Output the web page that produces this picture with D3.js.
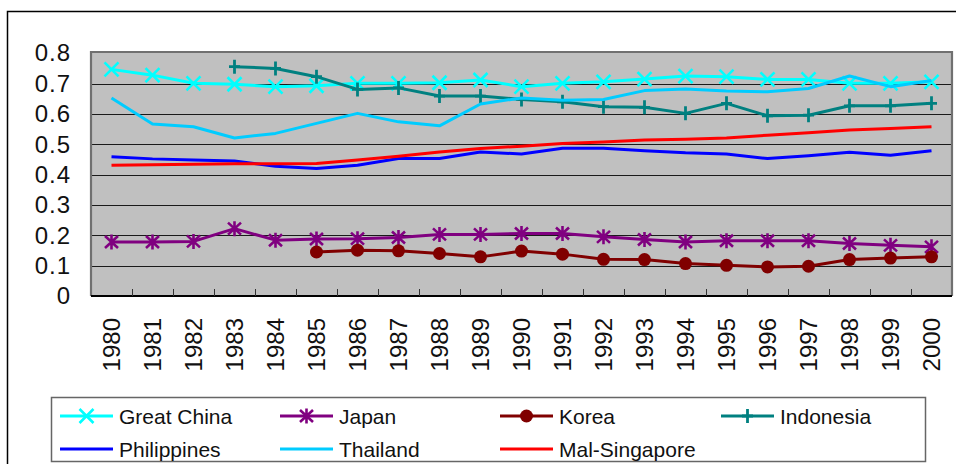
<!DOCTYPE html>
<html>
<head>
<meta charset="utf-8">
<script src="https://cdn.jsdelivr.net/npm/d3@7/dist/d3.min.js"></script>
<style>
  html, body { margin: 0; padding: 0; background: #fff; }
  svg { display: block; font-family: "Liberation Sans", Arial, sans-serif; }
</style>
</head>
<body>
<svg id="chart" width="956" height="464"></svg>
<script>
// Categories (years) and series values
const years = ["1980","1981","1982","1983","1984","1985","1986","1987","1988","1989","1990",
               "1991","1992","1993","1994","1995","1996","1997","1998","1999","2000"];
const yTicks = [0, 0.1, 0.2, 0.3, 0.4, 0.5, 0.6, 0.7, 0.8];

const greatChina = [0.747,0.728,0.701,0.698,0.690,0.693,0.701,0.701,0.703,0.712,0.690,
                    0.701,0.706,0.715,0.725,0.723,0.714,0.714,0.701,0.701,0.706];
const japan      = [0.178,0.178,0.180,0.222,0.184,0.188,0.189,0.193,0.203,0.203,0.206,
                    0.206,0.195,0.186,0.178,0.182,0.182,0.182,0.173,0.167,0.162];
const korea      = [null,null,null,null,null,0.145,0.151,0.149,0.140,0.129,0.148,
                    0.138,0.121,0.120,0.107,0.101,0.096,0.098,0.120,0.125,0.129];
const indonesia  = [null,null,null,0.756,0.750,0.723,0.681,0.686,0.659,0.659,0.648,
                    0.640,0.624,0.622,0.602,0.635,0.594,0.596,0.627,0.627,0.635];
const philippines= [0.459,0.452,0.448,0.445,0.428,0.420,0.431,0.453,0.453,0.475,0.468,
                    0.487,0.487,0.479,0.472,0.468,0.453,0.462,0.474,0.464,0.479];
const thailand   = [0.653,0.567,0.558,0.521,0.536,0.569,0.602,0.574,0.561,0.633,0.653,
                    0.645,0.648,0.677,0.682,0.676,0.673,0.684,0.725,0.690,0.710];
const malSingapore=[0.431,0.433,0.434,0.436,0.436,0.437,0.448,0.461,0.475,0.486,0.494,
                    0.503,0.508,0.514,0.517,0.521,0.530,0.538,0.547,0.552,0.558];

const series = [
  { name: "Great China",   values: greatChina,   color: "#00FFFF", marker: "x" },
  { name: "Japan",         values: japan,        color: "#800080", marker: "star" },
  { name: "Korea",         values: korea,        color: "#800000", marker: "circle" },
  { name: "Indonesia",     values: indonesia,    color: "#008080", marker: "plus" },
  { name: "Philippines",   values: philippines,  color: "#0000FF", marker: "none" },
  { name: "Thailand",      values: thailand,     color: "#00CCFF", marker: "none" },
  { name: "Mal-Singapore", values: malSingapore, color: "#FF0000", marker: "none" }
];

const svg = d3.select("#chart");
const plot = { left: 91, right: 952, top: 52, bottom: 296 };

const x = d3.scaleBand().domain(years).range([plot.left, plot.right]);
const y = d3.scaleLinear().domain([0, 0.8]).range([plot.bottom, 53.3]);
const cx = d => x(d) + x.bandwidth() / 2;

// Outer frame (top and left edges)
svg.append("path")
  .attr("d", "M7.5,464 V11.5 H956")
  .attr("fill", "none").attr("stroke", "#000").attr("stroke-width", 1.5);

// Plot background
svg.append("rect")
  .attr("x", plot.left).attr("y", plot.top)
  .attr("width", plot.right - plot.left).attr("height", plot.bottom - plot.top)
  .attr("fill", "#C0C0C0");

// Horizontal gridlines
svg.append("g").selectAll("line")
  .data(yTicks.filter(t => t > 0 && t < 0.8))
  .join("line")
  .attr("x1", plot.left).attr("x2", plot.right)
  .attr("y1", d => Math.round(y(d)) + 0.5).attr("y2", d => Math.round(y(d)) + 0.5)
  .attr("stroke", "#1a1a1a").attr("stroke-width", 1.2);

// Plot border: darker top/left/right edges
svg.append("path")
  .attr("d", `M${plot.left},${plot.bottom} V${plot.top} H${plot.right} V${plot.bottom}`)
  .attr("fill", "none").attr("stroke", "#707070").attr("stroke-width", 2.2);

// Y axis labels
const yAxis = d3.axisLeft(y).tickValues(yTicks).tickSize(0).tickPadding(0)
  .tickFormat(d => d === 0 ? "0" : d3.format(".1f")(d));
const yg = svg.append("g").attr("transform", "translate(71,0)").call(yAxis);
yg.select(".domain").remove();
yg.selectAll("text")
  .attr("font-size", 24).attr("fill", "#111")
  .attr("font-family", "'Liberation Sans', Arial, sans-serif")
  .attr("letter-spacing", 1);

// X axis: baseline with inner tick marks between categories
svg.append("line")
  .attr("x1", plot.left).attr("x2", plot.right)
  .attr("y1", plot.bottom).attr("y2", plot.bottom)
  .attr("stroke", "#000").attr("stroke-width", 2);
svg.append("g").selectAll("line")
  .data(years.slice(1))
  .join("line")
  .attr("x1", d => Math.round(x(d)) + 0.5).attr("x2", d => Math.round(x(d)) + 0.5)
  .attr("y1", plot.bottom).attr("y2", plot.bottom - 7)
  .attr("stroke", "#333").attr("stroke-width", 1);

const xAxis = d3.axisBottom(x).tickSize(0).tickPadding(0);
const xg = svg.append("g").attr("transform", `translate(0,${plot.bottom})`).call(xAxis);
xg.select(".domain").remove();
xg.selectAll("text")
  .attr("font-size", 24).attr("fill", "#111")
  .attr("font-family", "'Liberation Sans', Arial, sans-serif")
  .attr("transform", "rotate(-90)")
  .attr("text-anchor", "end")
  .attr("x", -22).attr("y", 0).attr("dy", "0.36em");

// Marker drawing
function drawMarker(g, type, color, px, py, scale = 1) {
  const s = scale;
  if (type === "x") {
    g.append("path").attr("transform", `translate(${px},${py})`)
      .attr("d", `M${-7*s},${-7*s}L${7*s},${7*s}M${-7*s},${7*s}L${7*s},${-7*s}`)
      .attr("stroke", color).attr("stroke-width", 2.6).attr("fill", "none");
  } else if (type === "star") {
    g.append("path").attr("transform", `translate(${px},${py})`)
      .attr("d", `M${-6.5*s},${-6*s}L${6.5*s},${6*s}M${-6.5*s},${6*s}L${6.5*s},${-6*s}M0,${-7.5*s}V${7.5*s}`)
      .attr("stroke", color).attr("stroke-width", 2.6).attr("fill", "none");
  } else if (type === "plus") {
    g.append("path").attr("transform", `translate(${px},${py})`)
      .attr("d", `M${-5.5*s},0H${5.5*s}M0,${-7*s}V${7*s}`)
      .attr("stroke", color).attr("stroke-width", 2.8).attr("fill", "none");
  } else if (type === "circle") {
    g.append("circle").attr("cx", px).attr("cy", py).attr("r", 6.5 * s)
      .attr("fill", color);
  }
}

// Series lines and markers
const line = d3.line()
  .defined(d => d.v !== null)
  .x(d => cx(d.year))
  .y(d => y(d.v));

const seriesG = svg.append("g");
series.forEach(s => {
  const pts = years.map((yr, i) => ({ year: yr, v: s.values[i] }));
  const g = seriesG.append("g");
  g.append("path").datum(pts)
    .attr("d", line)
    .attr("fill", "none")
    .attr("stroke", s.color)
    .attr("stroke-width", 3)
    .attr("stroke-linejoin", "round");
  pts.filter(p => p.v !== null).forEach(p => drawMarker(g, s.marker, s.color, cx(p.year), y(p.v)));
});

// Legend
const legend = svg.append("g");
legend.append("rect")
  .attr("x", 51.5).attr("y", 397.5).attr("width", 874).attr("height", 64)
  .attr("fill", "#fff").attr("stroke", "#666").attr("stroke-width", 1.5);

const colX = [60, 280, 500, 721];
const rowY = [416, 449];
series.forEach((s, i) => {
  const lx = colX[i % 4], ly = rowY[Math.floor(i / 4)];
  const item = legend.append("g");
  item.append("line")
    .attr("x1", lx).attr("x2", lx + 53).attr("y1", ly).attr("y2", ly)
    .attr("stroke", s.color).attr("stroke-width", 3);
  drawMarker(item, s.marker, s.color, lx + 26.5, ly, 1);
  item.append("text")
    .attr("x", lx + 59).attr("y", ly).attr("dy", "0.36em")
    .attr("font-size", 21).attr("fill", "#111")
    .text(s.name);
});
</script>
</body>
</html>
